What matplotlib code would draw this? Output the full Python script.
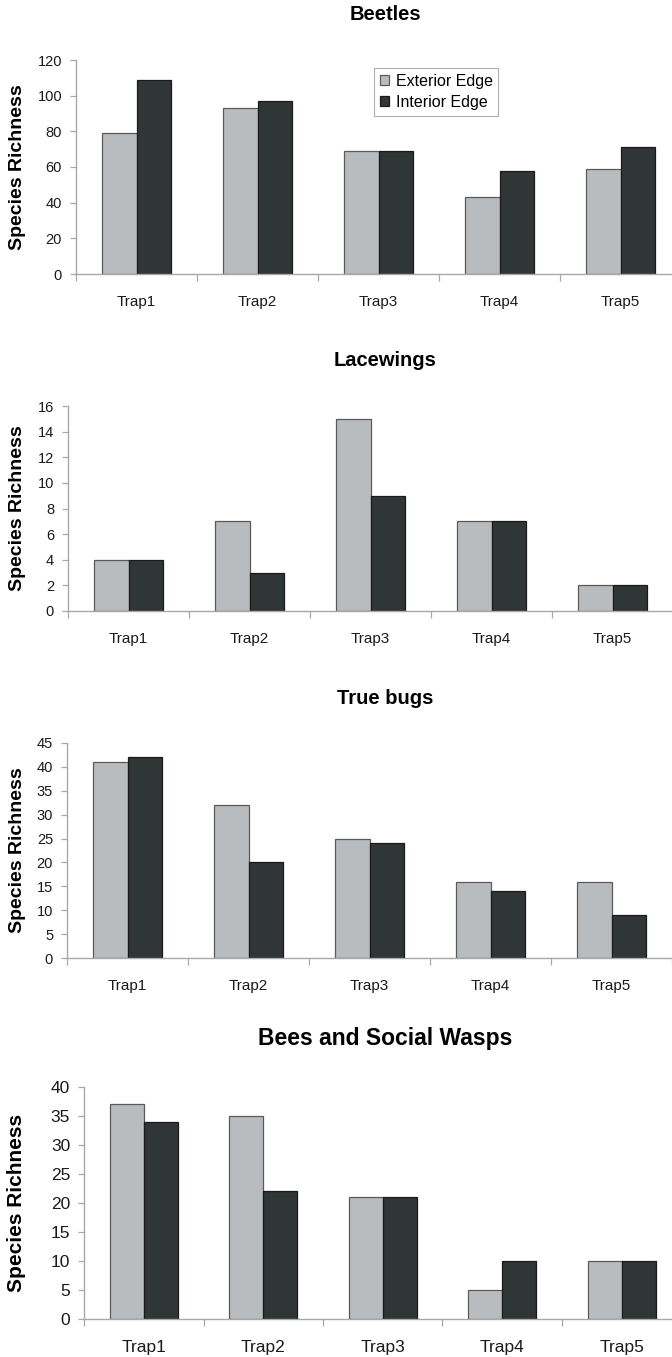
import numpy as np
import matplotlib
matplotlib.use("Agg")
import matplotlib.pyplot as plt

plt.rcParams['font.family'] = ['Liberation Sans', 'DejaVu Sans']

# Data
traps = ['Trap1', 'Trap2', 'Trap3', 'Trap4', 'Trap5']
series_names = ['Exterior Edge', 'Interior Edge']

beetles_ext = [79, 93, 69, 43, 59]
beetles_int = [109, 97, 69, 58, 71]
lacewings_ext = [4, 7, 15, 7, 2]
lacewings_int = [4, 3, 9, 7, 2]
truebugs_ext = [41, 32, 25, 16, 16]
truebugs_int = [42, 20, 24, 14, 9]
bees_ext = [37, 35, 21, 5, 10]
bees_int = [34, 22, 21, 10, 10]

titles = ['Beetles', 'Lacewings', 'True bugs', 'Bees and Social Wasps']
y_max = [120, 16, 45, 40]
y_step = [20, 2, 5, 5]

ext_color = '#B9BCBE'
int_color = '#303535'
axis_color = '#A8A8A8'

W, H = 672, 1357
fig = plt.figure(figsize=(W / 100, H / 100), dpi=100)

# axes boxes in pixels: left, top, bottom, category width
boxes = [(76, 60, 274, 121), (68, 406, 611, 121), (67, 743, 958, 121), (84, 1087, 1319, 119.5)]
title_y = [14, 361, 698, 1039]
title_size = [14.5, 14.5, 14.5, 16.5]
tick_size = [10.5, 10.5, 10.5, 12.5]
xtick_size = [11, 11, 11, 12.5]
ylabel_size = [14, 14, 14, 15]

data = [(beetles_ext, beetles_int), (lacewings_ext, lacewings_int),
        (truebugs_ext, truebugs_int), (bees_ext, bees_int)]

x = np.arange(len(traps))
bw = 0.285

for i, (left, top, bottom, cw) in enumerate(boxes):
    width = cw * 5
    ax = fig.add_axes([left / W, 1 - bottom / H, width / W, (bottom - top) / H])
    ext, inn = data[i]
    b1 = ax.bar(x - bw / 2, ext, bw, color=ext_color, edgecolor='#5A5A5A', linewidth=0.9, label=series_names[0])
    b2 = ax.bar(x + bw / 2, inn, bw, color=int_color, edgecolor='#1A1A1A', linewidth=0.9, label=series_names[1])
    ax.set_xlim(-0.5, 4.5)
    ax.set_ylim(0, y_max[i])
    ax.set_yticks(np.arange(0, y_max[i] + 1, y_step[i]))
    ax.set_xticks(x)
    ax.set_xticklabels(traps)
    ax.set_xticks(np.arange(-0.5, 5, 1), minor=True)
    ax.tick_params(axis='x', which='major', length=0, pad=15, labelsize=xtick_size[i], colors='#1A1A1A')
    ax.tick_params(axis='x', which='minor', length=5, width=0.9, color=axis_color)
    ax.tick_params(axis='y', length=4, width=0.9, color=axis_color, pad=6,
                   labelsize=tick_size[i], labelcolor='#1A1A1A')
    for s in ['top', 'right']:
        ax.spines[s].set_visible(False)
    for s in ['left', 'bottom']:
        ax.spines[s].set_color(axis_color)
        ax.spines[s].set_linewidth(1.0)
    ax.set_ylabel('Species Richness', fontsize=ylabel_size[i], fontweight='bold')
    ax.yaxis.set_label_coords((26 - left) / width, 0.5)
    fig.text(385 / W, 1 - title_y[i] / H, titles[i], ha='center', va='center',
             fontsize=title_size[i], fontweight='bold')
    if i == 0:
        leg = ax.legend(loc='upper left', bbox_to_anchor=((374 - left) / width, (bottom - 68) / (bottom - top)),
                        fontsize=11.5, frameon=True, fancybox=False, handlelength=0.6, handleheight=0.6,
                        handletextpad=0.4, borderpad=0.35, labelspacing=0.4, borderaxespad=0)
        leg.get_frame().set_edgecolor('#999999')
        leg.get_frame().set_linewidth(0.8)

fig.savefig('out.png', dpi=100)
